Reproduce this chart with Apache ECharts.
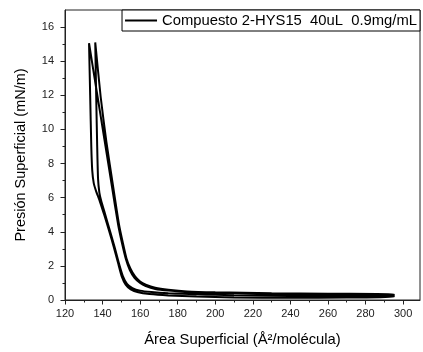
<!DOCTYPE html>
<html>
<head>
<meta charset="utf-8">
<script src="https://cdn.jsdelivr.net/npm/echarts@6/dist/echarts.min.js"></script>
<style>
html,body{margin:0;padding:0;background:#fff;}
#chart{width:423px;height:352px;}
</style>
</head>
<body>
<div id="chart"></div>
<script>
// Compression 1 (right to left)
const comp1Area =     [295, 260, 230, 200, 185, 175, 168, 163, 160, 157, 154.5, 152.4, 150.3, 148.3, 145, 141, 137, 132.8];
const comp1Pressure = [0.31, 0.34, 0.37, 0.42, 0.47, 0.55, 0.65, 0.82, 1.0, 1.3, 1.75, 2.4, 3.35, 4.4, 6.65, 9.4, 12.15, 15.05];
// Expansion 1 (left to right)
const exp1Area =     [132.8, 133.4, 134.0, 134.5, 135.3, 136.5, 138.5, 141, 143.5, 146, 148.3, 150.3, 152.3, 155, 159, 165, 175, 190, 210, 240, 270, 295];
const exp1Pressure = [15.05, 12.0, 9.0, 7.6, 6.85, 6.4, 5.8, 4.95, 4.05, 3.1, 2.15, 1.35, 0.9, 0.62, 0.45, 0.35, 0.27, 0.2, 0.15, 0.13, 0.15, 0.18];
// Compression 2
const comp2Area =     [295, 260, 230, 200, 185, 175, 168, 163, 160, 157.3, 154.8, 152.7, 150.7, 148.8, 145.7, 142, 139, 136.1];
const comp2Pressure = [0.35, 0.37, 0.4, 0.45, 0.5, 0.6, 0.72, 0.9, 1.08, 1.38, 1.85, 2.45, 3.4, 4.4, 6.6, 9.3, 11.9, 15.1];
// Expansion 2
const exp2Area =     [136.1, 136.6, 137.1, 137.6, 138.3, 139.2, 141.3, 143.8, 146.4, 148.7, 150.8, 153, 155.9, 160, 166, 175, 190, 210, 240, 270, 295];
const exp2Pressure = [15.1, 12.0, 9.2, 7.1, 6.3, 5.85, 5.05, 4.1, 3.1, 2.15, 1.4, 0.95, 0.7, 0.55, 0.47, 0.4, 0.33, 0.28, 0.25, 0.25, 0.26];

const xTicks = [120, 140, 160, 180, 200, 220, 240, 260, 280, 300];
const xMinorTicks = [130, 150, 170, 190, 210, 230, 250, 270, 290];
const yTicks = [0, 2, 4, 6, 8, 10, 12, 14, 16];
const yMinorTicks = [1, 3, 5, 7, 9, 11, 13, 15];

const seriesName = 'Compuesto 2-HYS15  40uL  0.9mg/mL';

function pairs(a, p) { return a.map((v, i) => [v, p[i]]); }
const data = [].concat(
  pairs(comp1Area, comp1Pressure),
  pairs(exp1Area, exp1Pressure),
  pairs(comp2Area, comp2Pressure),
  pairs(exp2Area, exp2Pressure)
);

const FONT = 'Liberation Sans, Arial, sans-serif';
const AX = '#222';

const chart = echarts.init(document.getElementById('chart'), null, {renderer: 'canvas'});
chart.setOption({
  animation: false,
  backgroundColor: '#fff',
  textStyle: {fontFamily: FONT},
  grid: {left: 65, right: 3, top: 10, bottom: 52, show: true, borderColor: AX, borderWidth: 1, backgroundColor: 'transparent'},
  legend: {
    right: 3, top: 10,
    padding: [3, 3, 3, 3],
    backgroundColor: '#fff',
    borderColor: '#000', borderWidth: 1, borderRadius: 0,
    itemWidth: 32, itemHeight: 2,
    textStyle: {fontFamily: FONT, fontSize: 14.8, color: '#000'},
    data: [{name: seriesName, icon: 'rect'}]
  },
  xAxis: [{
    type: 'value', min: 120, max: 309, interval: 20, position: 'bottom',
    name: 'Área Superficial (Å²/molécula)', nameLocation: 'middle', nameGap: 32,
    nameTextStyle: {fontFamily: FONT, fontSize: 14.8, color: '#000'},
    axisLine: {show: true, lineStyle: {color: AX, width: 1}},
    axisTick: {show: true, length: 4.5, customValues: xTicks, lineStyle: {color: AX}},
    axisLabel: {customValues: xTicks, fontSize: 11, color: '#222', margin: 8, fontFamily: FONT},
    splitLine: {show: false}
  }, {
    type: 'value', min: 120, max: 309, position: 'bottom',
    axisLine: {show: false},
    axisTick: {show: true, length: 2.5, customValues: xMinorTicks, lineStyle: {color: AX}},
    axisLabel: {show: false},
    splitLine: {show: false}
  }],
  yAxis: [{
    type: 'value', min: 0, max: 17, interval: 2, position: 'left',
    name: 'Presión Superficial (mN/m)', nameLocation: 'middle', nameGap: 37,
    nameTextStyle: {fontFamily: FONT, fontSize: 14.5, color: '#000'},
    axisLine: {show: true, lineStyle: {color: AX, width: 1}},
    axisTick: {show: true, length: 4.5, customValues: yTicks, lineStyle: {color: AX}},
    axisLabel: {customValues: yTicks, fontSize: 11, color: '#222', margin: 11, fontFamily: FONT},
    splitLine: {show: false}
  }, {
    type: 'value', min: 0, max: 17, position: 'left',
    axisLine: {show: false},
    axisTick: {show: true, length: 2.5, customValues: yMinorTicks, lineStyle: {color: AX}},
    axisLabel: {show: false},
    splitLine: {show: false}
  }],
  series: [{
    name: seriesName,
    type: 'line',
    xAxisIndex: 0, yAxisIndex: 0,
    data: data,
    symbol: 'none', showSymbol: false,
    smooth: 0.2,
    lineStyle: {color: '#000', width: 2},
    itemStyle: {color: '#000'},
    z: 3
  }]
});
</script>
</body>
</html>
